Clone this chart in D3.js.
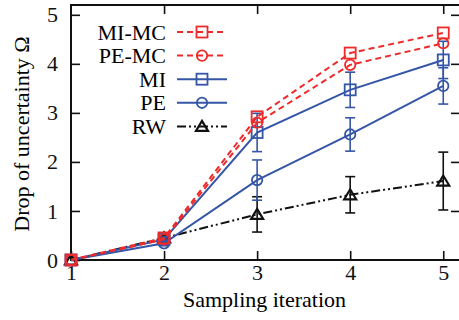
<!DOCTYPE html>
<html>
<head>
<meta charset="utf-8">
<script src="https://cdn.jsdelivr.net/npm/d3@7"></script>
<style>
  body { margin: 0; background: #fff; }
</style>
</head>
<body>
<script>
// data
var iterations = [1, 2, 3, 4, 5];
var miMc = [0, 0.45, 2.92, 4.22, 4.63];
var peMc = [0, 0.42, 2.80, 3.98, 4.42];
var mi = [0, 0.42, 2.60, 3.47, 4.08];
var miErr = [0, 0.05, 0.39, 0.36, 0.38];
var pe = [0, 0.34, 1.63, 2.56, 3.55];
var peErr = [0, 0.05, 0.41, 0.34, 0.37];
var rw = [0, 0.45, 0.93, 1.33, 1.61];
var rwErr = [0, 0.04, 0.36, 0.37, 0.59];
var yTicks = [0, 1, 2, 3, 4, 5];
var xTicks = [1, 2, 3, 4, 5];

var red = '#ee2a2a', blue = '#3556a6', black = '#111';
var serif = '"Liberation Serif", "Times New Roman", Times, serif';

var series = [
  { name: 'RW', vals: rw, err: rwErr, color: black, dash: '9,3,2,3,2,3', marker: 'tri' },
  { name: 'PE', vals: pe, err: peErr, color: blue, dash: null, marker: 'circle' },
  { name: 'MI', vals: mi, err: miErr, color: blue, dash: null, marker: 'square' },
  { name: 'PE-MC', vals: peMc, err: null, color: red, dash: '6,4', marker: 'circle' },
  { name: 'MI-MC', vals: miMc, err: null, color: red, dash: '6,4', marker: 'square' }
];
var legendOrder = ['MI-MC', 'PE-MC', 'MI', 'PE', 'RW'];

// plot box (in pixels)
var width = 459, height = 320;
var plotL = 71, plotR = 460, plotT = 5, plotB = 260;

var x = d3.scaleLinear().domain([1, 5.18]).range([plotL, plotR]);
var y = d3.scaleLinear().domain([0, 5.2]).range([plotB, plotT]);
var fmt = d3.format('d');

var svg = d3.select('body').append('svg')
  .attr('width', width)
  .attr('height', height);

// axes with inward ticks
svg.append('g')
  .attr('transform', 'translate(' + plotL + ',0)')
  .call(d3.axisLeft(y).tickValues(yTicks).tickFormat(fmt).tickSize(-9).tickPadding(13))
  .attr('font-family', serif).attr('font-size', 22);
svg.append('g')
  .attr('transform', 'translate(0,' + plotB + ')')
  .call(d3.axisBottom(x).tickValues(xTicks).tickFormat(fmt).tickSize(-9).tickPadding(4))
  .attr('font-family', serif).attr('font-size', 22);
svg.append('g')
  .attr('transform', 'translate(' + plotR + ',0)')
  .call(d3.axisRight(y).tickValues(yTicks.slice(1)).tickSize(-9).tickFormat(''));
svg.append('g')
  .attr('transform', 'translate(0,' + plotT + ')')
  .call(d3.axisTop(x).tickValues(xTicks.slice(1)).tickSize(-9).tickFormat(''));

svg.selectAll('.domain').remove();
svg.selectAll('.tick line').attr('stroke', black).attr('stroke-width', 1.6);
svg.selectAll('.tick text').attr('fill', black);

svg.append('rect')
  .attr('x', plotL).attr('y', plotT)
  .attr('width', plotR - plotL).attr('height', plotB - plotT)
  .attr('fill', 'none').attr('stroke', black).attr('stroke-width', 2);

// axis titles
svg.append('text')
  .attr('x', (plotL + plotR) / 2 - 1).attr('y', 307)
  .attr('text-anchor', 'middle')
  .attr('font-family', serif).attr('font-size', 22)
  .text('Sampling iteration');
svg.append('text')
  .attr('transform', 'translate(29,134) rotate(-90)')
  .attr('text-anchor', 'middle')
  .attr('font-family', serif).attr('font-size', 22)
  .text('Drop of uncertainty Ω');

function drawMarker(g, type, cx, cy, color) {
  if (type === 'square') {
    g.append('rect').attr('x', cx - 5.5).attr('y', cy - 5.5)
      .attr('width', 11).attr('height', 11)
      .attr('fill', 'none').attr('stroke', color).attr('stroke-width', 1.8);
  } else if (type === 'circle') {
    g.append('circle').attr('cx', cx).attr('cy', cy).attr('r', 5.2)
      .attr('fill', 'none').attr('stroke', color).attr('stroke-width', 1.8);
  } else {
    g.append('path')
      .attr('d', 'M' + (cx - 6) + ',' + (cy + 4.5) + 'L' + (cx + 6) + ',' + (cy + 4.5) + 'L' + cx + ',' + (cy - 5.5) + 'Z')
      .attr('fill', 'none').attr('stroke', color).attr('stroke-width', 2.2);
  }
}

var line = d3.line()
  .x(function (d, i) { return x(iterations[i]); })
  .y(function (d) { return y(d); });

series.forEach(function (s) {
  var g = svg.append('g');
  if (s.err) {
    s.vals.forEach(function (v, i) {
      if (!s.err[i]) return;
      var cx = x(iterations[i]);
      var y0 = y(v - s.err[i]), y1 = y(v + s.err[i]);
      g.append('line').attr('x1', cx).attr('x2', cx).attr('y1', y0).attr('y2', y1)
        .attr('stroke', s.color).attr('stroke-width', 1.6);
      [y0, y1].forEach(function (yy) {
        g.append('line').attr('x1', cx - 5).attr('x2', cx + 5).attr('y1', yy).attr('y2', yy)
          .attr('stroke', s.color).attr('stroke-width', 1.6);
      });
    });
  }
  g.append('path')
    .attr('d', line(s.vals))
    .attr('fill', 'none')
    .attr('stroke', s.color)
    .attr('stroke-width', 2)
    .attr('stroke-dasharray', s.dash);
  s.vals.forEach(function (v, i) {
    drawMarker(g, s.marker, x(iterations[i]), y(v), s.color);
  });
});

// legend
var legend = svg.append('g');
legendOrder.forEach(function (name, k) {
  var s = series.find(function (d) { return d.name === name; });
  var ly = 32 + k * 23.6;
  legend.append('text')
    .attr('x', 166).attr('y', ly + 7.5)
    .attr('text-anchor', 'end')
    .attr('font-family', serif).attr('font-size', 22)
    .text(name);
  legend.append('line')
    .attr('x1', 177).attr('x2', 227).attr('y1', ly).attr('y2', ly)
    .attr('stroke', s.color).attr('stroke-width', 2)
    .attr('stroke-dasharray', s.dash);
  drawMarker(legend, s.marker, 202, ly, s.color);
});
</script>
</body>
</html>
